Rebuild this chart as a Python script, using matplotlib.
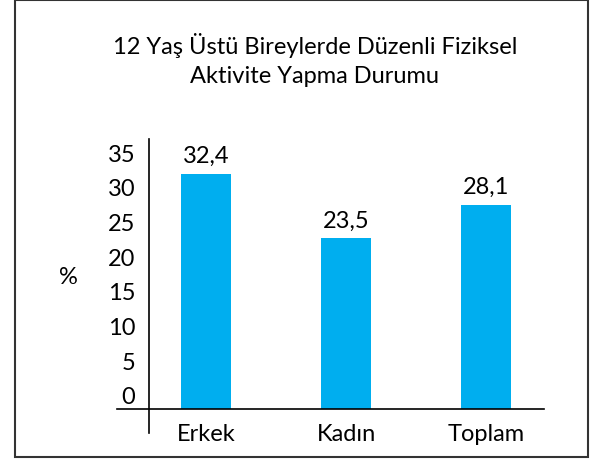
import matplotlib.pyplot as plt
from matplotlib.patches import Rectangle

plt.rcParams['font.family'] = ['Lato', 'DejaVu Sans']

title = '12 Yaş Üstü Bireylerde Düzenli Fiziksel\nAktivite Yapma Durumu'
categories = ['Erkek', 'Kadın', 'Toplam']
values = [32.4, 23.5, 28.1]
yticks = [0, 5, 10, 15, 20, 25, 30, 35]
bar_color = '#00AEEF'
fs = 17

W, H = 601, 469
fig = plt.figure(figsize=(W / 100, H / 100), dpi=100)

# figure frame
fig.patches.append(Rectangle((15 / W, 12 / H), 573 / W, 456.5 / H, transform=fig.transFigure,
                             fill=False, edgecolor='#333333', linewidth=1.5))

# main axes, pixel box: x 117..544, y 139..433 (from top)
ax = fig.add_axes([117 / W, (H - 433) / H, 427 / W, 294 / H])
x = list(range(len(categories)))
bars = ax.bar(x, values, width=0.357, color=bar_color)
ax.set_xlim(-0.636, 2.414)
ax.set_ylim(-3.31, 37.19)
ax.spines['top'].set_visible(False)
ax.spines['right'].set_visible(False)
ax.spines['left'].set_position(('data', -0.407))
ax.spines['bottom'].set_position(('data', 0))
for s in ('left', 'bottom'):
    ax.spines[s].set_linewidth(1.2)
ax.set_xticks(x)
ax.set_xticklabels(categories, fontsize=fs)
ax.tick_params(axis='x', length=0, pad=11)
ax.set_yticks([])
ax.bar_label(bars, labels=[str(v).replace('.', ',') for v in values], padding=5, fontsize=fs)
ax.patch.set_visible(False)

# tick labels sit a bit above the real scale in the original
lab = fig.add_axes([149 / W, (H - 433) / H, 395 / W, 294 / H])
lab.set_ylim(-5.33, 37.02)
lab.set_yticks(yticks)
lab.set_yticklabels([str(t) for t in yticks], fontsize=fs)
lab.tick_params(axis='y', length=0, pad=10)
lab.set_xticks([])
for s in lab.spines.values():
    s.set_visible(False)
lab.patch.set_visible(False)

fig.text(68 / W, 1 - 277 / H, '%', fontsize=fs, ha='center', va='center')
fig.text(315 / W, 1 - 60 / H, title, fontsize=fs, ha='center', va='center', linespacing=1.45)

fig.savefig('out.png', dpi=100)
